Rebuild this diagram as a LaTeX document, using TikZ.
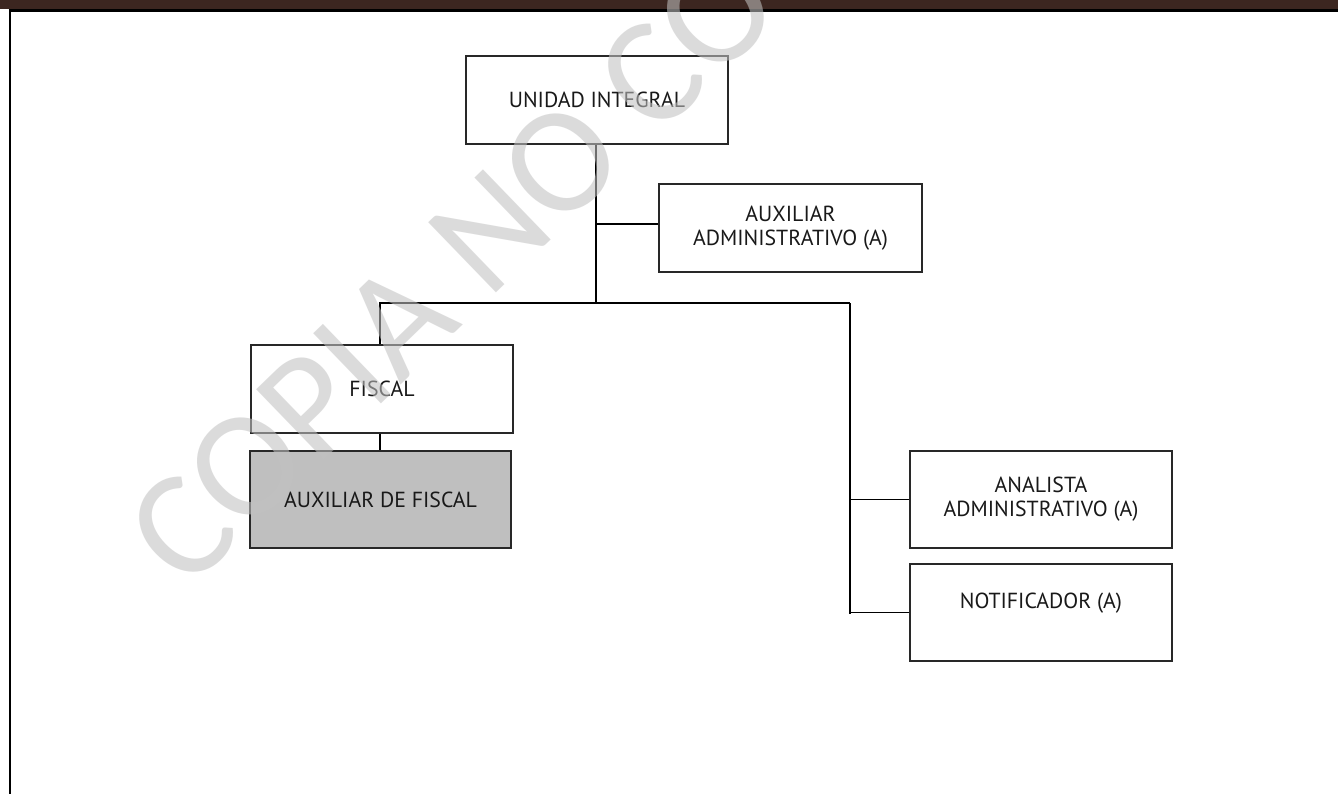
\documentclass[tikz,border=0pt]{standalone}
\usepackage{fontspec}
\setmainfont{PT Sans}
\newfontfamily\wmfont{Carlito}
\definecolor{barbrown}{RGB}{60,38,32}
\definecolor{boxgray}{RGB}{191,191,191}
\definecolor{wmgray}{RGB}{193,193,193}
\definecolor{edge}{RGB}{40,40,40}
\tikzset{
  boxfont/.style={font=\fontsize{21.8}{24}\selectfont, text=black!90},
  orgbox/.style={draw=edge, line width=1.1pt, fill=white, align=center,
    inner sep=0pt, minimum width=262pt, minimum height=88pt, boxfont},
  tallbox/.style={orgbox, minimum height=97pt},
  wire/.style={draw=black, line width=1.8pt},
}
\begin{document}
\begin{tikzpicture}[x=1pt,y=1pt]
\useasboundingbox (0,0) rectangle (1338,-794);
\fill[white] (0,0) rectangle (1338,-794);

% page frame: header band, rule and left margin line
\fill[barbrown] (0,0) rectangle (1338,-9.5);
\draw[black, line width=2.4pt] (8.5,-10.5) -- (1338,-10.5);
\draw[black, line width=2.6pt] (10,-10.5) -- (10,-794);

% boxes
\node[orgbox] (unidad) at (597,-100) {UNIDAD INTEGRAL};
\node[orgbox, minimum width=263pt] (auxadmin) at (790.5,-228) {AUXILIAR\\ADMINISTRATIVO (A)};
\node[orgbox] (fiscal) at (382,-389) {FISCAL};
\node[tallbox, minimum width=261pt, fill=boxgray] (auxfiscal) at (380.5,-499.5) {AUXILIAR DE FISCAL};
\node[tallbox] (analista) at (1041,-499.5) {ANALISTA\\ADMINISTRATIVO (A)};
\node[tallbox] (notif) at (1041,-612.5) {};
\node[boxfont, inner sep=0pt] (notiftext) at ([yshift=9pt]notif.center) {NOTIFICADOR (A)};

% connector junctions
\coordinate (trunkbot) at (596,-303);
\coordinate (tap) at (596,-224);
\coordinate (busR) at (850,-303);
\coordinate (rightend) at (850,-614);

% connectors
\draw[wire] (unidad.south -| trunkbot) -- (trunkbot);
\draw[wire] (tap) -- (auxadmin.west |- tap);
\draw[wire] (fiscal.north -| 380,0) |- (busR);
\draw[wire] (busR) -- (rightend);
\draw[wire] (fiscal.south -| 380,0) -- (auxfiscal.north -| 380,0);
\draw[wire] (analista.west -| busR) -- (analista.west);
\draw[wire] (notif.west -| busR) -- (notif.west);

% watermark
\begin{scope}
\clip (0,0) rectangle (1338,-794);
\node[rotate=44, inner sep=0pt, text=wmgray, text opacity=0.57,
  font=\wmfont\fontsize{152}{152}\selectfont] (wm) at (452,-268) {COPIA NO CO};
\end{scope}
\end{tikzpicture}
\end{document}
